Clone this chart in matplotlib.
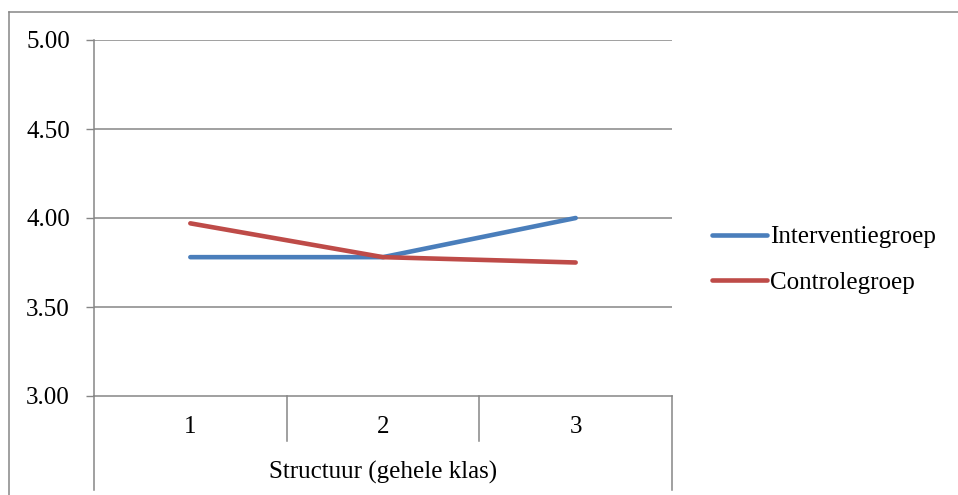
import matplotlib
matplotlib.use("Agg")
import matplotlib.pyplot as plt
from matplotlib.lines import Line2D
import matplotlib.transforms as mtrans

categories = ["1", "2", "3"]
group_label = "Structuur (gehele klas)"
interventie = [3.78, 3.78, 4.00]
controle = [3.97, 3.78, 3.75]
series_names = ["Interventiegroep", "Controlegroep"]
yticks = [3.00, 3.50, 4.00, 4.50, 5.00]

plt.rcParams['font.family'] = ['Liberation Serif', 'DejaVu Serif']

W, H = 958, 495
fig = plt.figure(figsize=(W / 100, H / 100), dpi=100)
fig.patch.set_facecolor("white")

def fx(px):
    return px / W

def fy(py):
    return 1 - py / H

L, R, T, B = 94, 672, 40, 396
ax = fig.add_axes([fx(L), fy(B), fx(R) - fx(L), fy(T) - fy(B)])

grid_c = "#868686"
fs = 18
x = [i + 0.5 for i in range(len(categories))]

ax.plot(x, interventie, color="#4A7EBB", lw=3.3, solid_capstyle="round",
        solid_joinstyle="round", label=series_names[0], zorder=3)
ax.plot(x, controle, color="#BE4B48", lw=3.3, solid_capstyle="round",
        solid_joinstyle="round", label=series_names[1], zorder=4)

ax.set_xlim(0, len(categories))
ax.set_ylim(3.0, 5.0)
ax.set_yticks(yticks)
ax.set_yticklabels([f"{v:.2f}" for v in yticks], fontsize=fs)
ax.tick_params(axis="y", length=5.8, width=1.0, color=grid_c, pad=11.5,
               direction="out")
ax.set_xticks([])
for y in yticks[1:]:
    ax.axhline(y, color=grid_c, lw=1.1, zorder=1)

for s in ["top", "right"]:
    ax.spines[s].set_visible(False)
ax.spines["left"].set_color(grid_c)
ax.spines["bottom"].set_color(grid_c)
ax.spines["left"].set_linewidth(1.1)
ax.spines["bottom"].set_linewidth(1.1)

# multi-level category axis
blend = mtrans.blended_transform_factory(ax.transData, fig.transFigure)
for xi, lab in zip(x, categories):
    ax.text(xi, fy(427), lab, transform=blend, ha="center", va="center", fontsize=fs)
fig.text(fx((L + R) / 2), fy(472), group_label, ha="center", va="center", fontsize=fs)

lines = []
for i in range(1, len(categories)):
    px = L + (R - L) * i / len(categories)
    lines.append(((px, px), (B, 441)))
lines.append(((L, L), (B, 490)))
lines.append(((R, R), (B, 490)))
# outer chart frame
lines.append(((9, 9), (12, 495)))
lines.append(((9, 958), (12, 12)))
for (xs, ys) in lines:
    fig.add_artist(Line2D([fx(v) for v in xs], [fy(v) for v in ys],
                          color=grid_c, lw=1.1))

leg = fig.legend(loc="upper left", bbox_to_anchor=(fx(702), fy(216)),
                 frameon=False, fontsize=fs, handlelength=2.2,
                 handletextpad=0.12, labelspacing=0.92, borderaxespad=0)

fig.savefig("out.png", dpi=100, facecolor="white")
